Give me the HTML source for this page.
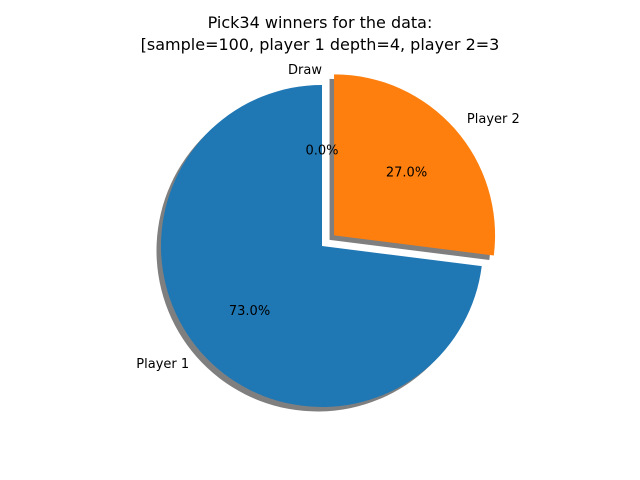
<!DOCTYPE html>
<html><head><meta charset="utf-8"><style>
body{margin:0;background:#fff;}
svg{display:block;font-family:"DejaVu Sans","Liberation Sans",sans-serif;}
</style></head><body>
<svg id="chart" width="640" height="480">
<text x="320" y="28" text-anchor="middle" font-size="16">Pick34 winners for the data:</text>
<text x="320" y="50" text-anchor="middle" font-size="16">[sample=100, player 1 depth=4, player 2=3</text>
<g id="shadows"></g><g id="slices"></g><g id="labels"></g>
</svg>
<script>
const labels = ["Draw", "Player 1", "Player 2"];
const values = [0, 73, 27];
const explode = [0, 0, 0.1];
const colors = ["#2ca02c", "#1f77b4", "#ff7f0e"];
const cx = 322, cy = 246, R = 161;
const NS = "http://www.w3.org/2000/svg";
const total = values.reduce((a, b) => a + b, 0);
let ang = 90;
function pt(x, y, r, a) { const t = a * Math.PI / 180; return [x + r * Math.cos(t), y - r * Math.sin(t)]; }
function wedge(x, y, a0, a1) {
  if (a1 - a0 <= 0) return "";
  const p0 = pt(x, y, R, a0), p1 = pt(x, y, R, a1);
  const large = (a1 - a0) > 180 ? 1 : 0;
  return `M${x},${y} L${p0[0]},${p0[1]} A${R},${R} 0 ${large} 0 ${p1[0]},${p1[1]} Z`;
}
values.forEach((v, i) => {
  const sweep = v / total * 360;
  const a0 = ang, a1 = ang + sweep, mid = (a0 + a1) / 2;
  const [ox, oy] = pt(cx, cy, explode[i] * R, mid);
  const d = wedge(ox, oy, a0, a1);
  if (d) {
    const sh = document.createElementNS(NS, "path");
    sh.setAttribute("d", d);
    sh.setAttribute("fill", "#000");
    sh.setAttribute("fill-opacity", "0.5");
    sh.setAttribute("transform", "translate(-4.5,4.5)");
    
    
    document.getElementById("shadows").appendChild(sh);
    const p = document.createElementNS(NS, "path");
    p.setAttribute("d", d);
    p.setAttribute("fill", colors[i]);
    
    
    document.getElementById("slices").appendChild(p);
  }
  const lp = pt(ox, oy, R * 1.1, mid);
  const t = document.createElementNS(NS, "text");
  t.setAttribute("x", lp[0]); t.setAttribute("y", lp[1] + 5);
  t.setAttribute("font-size", "13");
  t.setAttribute("text-anchor", Math.cos(mid * Math.PI / 180) > 1e-9 ? "start" : "end");
  t.textContent = labels[i];
  
  
  document.getElementById("labels").appendChild(t);
  const pp = pt(ox, oy, R * 0.6, mid);
  const q = document.createElementNS(NS, "text");
  q.setAttribute("x", pp[0]); q.setAttribute("y", pp[1] + 5);
  q.setAttribute("font-size", "13");
  q.setAttribute("text-anchor", "middle");
  q.textContent = (v / total * 100).toFixed(1) + "%";
  
  
  document.getElementById("labels").appendChild(q);
  ang = a1;
});
</script>
</body></html>
